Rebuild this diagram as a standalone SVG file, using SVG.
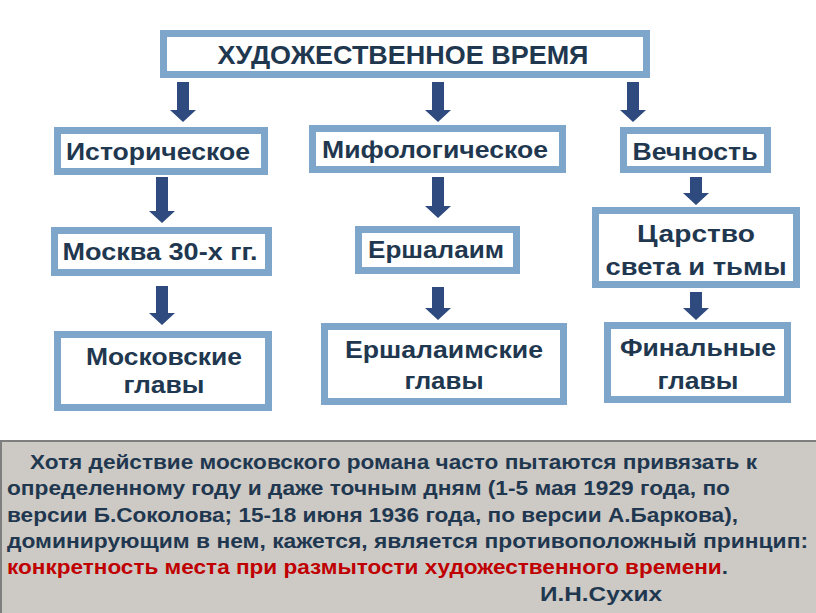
<svg xmlns="http://www.w3.org/2000/svg" width="816" height="613" viewBox="0 0 816 613">
<defs>
<style>
.box{fill:#ffffff;stroke:#7ea6cb;stroke-width:7}
.t{font-family:"Liberation Sans",Arial,sans-serif;font-weight:bold;fill:#1f3850;text-anchor:middle}
.n{font-size:24px}
.p{font-family:"Liberation Sans",Arial,sans-serif;font-weight:bold;fill:#1f3850;font-size:20.5px}
.red{fill:#c00000}
.arr{fill:#2f4a7f}
</style>
</defs>
<rect width="816" height="613" fill="#ffffff"/>

<g id="connectors">
<path class="arr" d="M177,82 H189 V110 H196 L183,122 L170,110 H177 Z"/>
<path class="arr" d="M432,82 H444 V110 H451 L438,122 L425,110 H432 Z"/>
<path class="arr" d="M627,82 H639 V110 H646 L633,122 L620,110 H627 Z"/>
<path class="arr" d="M156,177 H168 V211 H175 L162,223 L149,211 H156 Z"/>
<path class="arr" d="M432,177 H444 V206 H451 L438,218 L425,206 H432 Z"/>
<path class="arr" d="M690,177 H702 V193 H709 L696,205 L683,193 H690 Z"/>
<path class="arr" d="M156,286 H168 V313 H175 L162,325 L149,313 H156 Z"/>
<path class="arr" d="M432,287 H444 V308 H451 L438,320 L425,308 H432 Z"/>
<path class="arr" d="M690,292 H702 V308 H709 L696,320 L683,308 H690 Z"/>
</g>

<g id="root">
<rect class="box" x="163.5" y="33.5" width="483" height="41"/>
<text class="t" x="403" y="64" font-size="25" textLength="371" lengthAdjust="spacingAndGlyphs">ХУДОЖЕСТВЕННОЕ ВРЕМЯ</text>
</g>

<g id="historical">
<rect class="box" x="57.5" y="130.5" width="207" height="41"/>
<text class="t n" x="158" y="160" textLength="184" lengthAdjust="spacingAndGlyphs">Историческое</text>
</g>
<g id="mythological">
<rect class="box" x="312.5" y="128.5" width="250" height="41"/>
<text class="t n" x="435" y="158" textLength="226" lengthAdjust="spacingAndGlyphs">Мифологическое</text>
</g>
<g id="eternity">
<rect class="box" x="623.5" y="130.5" width="144" height="39"/>
<text class="t n" x="695" y="160" textLength="125" lengthAdjust="spacingAndGlyphs">Вечность</text>
</g>

<g id="moscow30">
<rect class="box" x="54.5" y="230.5" width="214" height="42"/>
<text class="t n" x="160" y="260" textLength="195" lengthAdjust="spacingAndGlyphs">Москва 30-х гг.</text>
</g>
<g id="yershalaim">
<rect class="box" x="358.5" y="229.5" width="158" height="41"/>
<text class="t n" x="436" y="258" textLength="136" lengthAdjust="spacingAndGlyphs">Ершалаим</text>
</g>
<g id="kingdom">
<rect class="box" x="595.5" y="210.5" width="201" height="74"/>
<text class="t n" x="696" y="242" textLength="118" lengthAdjust="spacingAndGlyphs">Царство</text>
<text class="t n" x="696" y="275" textLength="181" lengthAdjust="spacingAndGlyphs">света и тьмы</text>
</g>

<g id="moscow-chapters">
<rect class="box" x="57.5" y="334.5" width="211" height="73"/>
<text class="t n" x="164" y="365" textLength="156" lengthAdjust="spacingAndGlyphs">Московские</text>
<text class="t n" x="164" y="393" textLength="81" lengthAdjust="spacingAndGlyphs">главы</text>
</g>
<g id="yershalaim-chapters">
<rect class="box" x="324.5" y="326.5" width="239" height="75"/>
<text class="t n" x="444" y="358" textLength="198" lengthAdjust="spacingAndGlyphs">Ершалаимские</text>
<text class="t n" x="444" y="389" textLength="79" lengthAdjust="spacingAndGlyphs">главы</text>
</g>
<g id="final-chapters">
<rect class="box" x="607.5" y="325.5" width="180" height="74"/>
<text class="t n" x="698" y="356" textLength="156" lengthAdjust="spacingAndGlyphs">Финальные</text>
<text class="t n" x="698" y="389" textLength="81" lengthAdjust="spacingAndGlyphs">главы</text>
</g>

<g id="quote">
<rect x="1" y="441" width="830" height="180" fill="#cdc9c5" stroke="#7f7f7f" stroke-width="2"/>
<text class="p" x="30" y="469" textLength="727" lengthAdjust="spacingAndGlyphs">Хотя действие московского романа часто пытаются привязать к</text>
<text class="p" x="7" y="495" textLength="723" lengthAdjust="spacingAndGlyphs">определенному году и даже точным дням (1-5 мая 1929 года, по</text>
<text class="p" x="7" y="522" textLength="731" lengthAdjust="spacingAndGlyphs">версии Б.Соколова; 15-18 июня 1936 года, по версии А.Баркова),</text>
<text class="p" x="7" y="548" textLength="801" lengthAdjust="spacingAndGlyphs">доминирующим в нем, кажется, является противоположный принцип:</text>
<text class="p" x="7" y="574" textLength="721" lengthAdjust="spacingAndGlyphs"><tspan class="red">конкретность места при размытости художественного времени</tspan>.</text>
<text class="p" x="540" y="601" textLength="122" lengthAdjust="spacingAndGlyphs">И.Н.Сухих</text>
</g>
</svg>
